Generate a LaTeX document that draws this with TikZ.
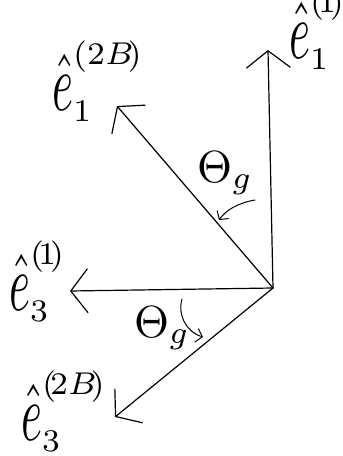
\documentclass[tikz,border=0pt]{standalone}
\usepackage{graphicx}
\usepackage{amsmath}
\usetikzlibrary{arrows.meta}

% tall hand-written unit vector
\newcommand{\unitvec}[2]{\scalebox{4.5}{${\scalebox{1}[1.8]{$\hat{e}$}}^{#1}_{#2}$}}
\newcommand{\anglbl}[1]{\scalebox{4.5}{$#1$}}

\begin{document}
\begin{tikzpicture}[
  x=1pt, y=-1pt,
  every node/.style={inner sep=0pt},
  vec/.style={line width=1.2pt, line cap=round,
              -{Straight Barb[length=17pt, width=44pt, line width=1.2pt]}},
  turn/.style={line width=1pt, line cap=round,
               -{Straight Barb[length=6pt, width=14pt, line width=1pt]}},
  basis/.style={anchor=base west},
  ang/.style={anchor=base west}
]
\useasboundingbox (0,0) rectangle (343,456);

% origin and vector tips
\coordinate (o) at (273,288);
\coordinate (t1one) at (268,50);
\coordinate (t1two) at (117,106);
\coordinate (t3one) at (70,291);
\coordinate (t3two) at (115,417);

% basis vectors
\draw[vec] (o) -- (t1one);
\draw[vec] (o) -- (t1two);
\draw[vec] (o) -- (t3one);
\draw[vec] (o) -- (t3two);

% labels
\node[basis] (e1one) at (289,58) {\unitvec{(\!1\!)}{1}};
\node[basis] (e1two) at (52,110) {\unitvec{(2B\!)}{1}};
\node[basis] (e3one) at (9,310) {\unitvec{(\!1\!)}{3}};
\node[basis] (e3two) at (21,440) {\unitvec{(\!2B\!)}{3}};

% rotation angles
\node[ang] (thup) at (197,182) {\anglbl{\Theta_g}};
\node[ang] (thlow) at (134,337) {\anglbl{\Theta_g}};

\coordinate (aupS) at (255,200);
\coordinate (aupE) at (219,220);
\coordinate (alowS) at (182,299);
\coordinate (alowE) at (203,337);
\draw[turn] (aupS) .. controls (238,203) and (226,210) .. (aupE);
\draw[turn] (alowS) .. controls (177,316) and (188,333) .. (alowE);

\end{tikzpicture}
\end{document}
